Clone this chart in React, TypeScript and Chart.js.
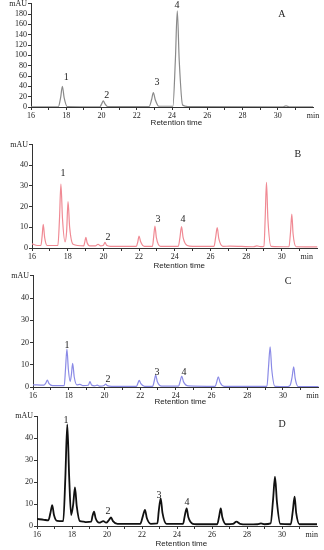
import React, { useEffect, useRef } from 'react';
import { Chart, registerables } from 'chart.js';

Chart.register(...registerables);

// ---------- data (retention time in min, signal in mAU) ----------
const traceA: number[][] = [
  [16, 0.5], [17.55, 0.5], [17.68, 18], [17.78, 40], [17.88, 18], [18.05, 1],
  [19.9, 0.5], [20.01, 6], [20.1, 12], [20.2, 6], [20.35, 0.8],
  [22.7, 0.8], [22.84, 14], [22.94, 28], [23.05, 14], [23.25, 1.5],
  [24.05, 1.5], [24.19, 90], [24.3, 186], [24.41, 90], [24.6, 4], [24.9, 1],
  [30.3, 0.5], [30.47, 2], [30.65, 0.5], [32, 0.5],
];

const traceB: number[][] = [
  [16, 2], [16.3, 1.2], [16.5, 1.2], [16.57, 6], [16.63, 11.4], [16.71, 5], [16.85, 1.2],
  [17.45, 1.2], [17.54, 14], [17.62, 30.9], [17.71, 14], [17.85, 3], [17.94, 8], [18.02, 22.4],
  [18.11, 10], [18.3, 1.8], [18.9, 1], [18.96, 3], [19.02, 5.2], [19.09, 2.5], [19.25, 1],
  [19.55, 1], [19.7, 1.8], [19.85, 1], [20.0, 1.3], [20.09, 2.7], [20.18, 1.3], [20.4, 0.8],
  [21.85, 0.8], [21.93, 3], [22.0, 5.8], [22.09, 3], [22.3, 0.8],
  [22.75, 0.8], [22.82, 5.5], [22.89, 10.6], [22.97, 5], [23.2, 0.8],
  [24.2, 0.8], [24.29, 5], [24.38, 10.3], [24.47, 5], [24.7, 1.2], [25.0, 0.8],
  [26.2, 0.8], [26.29, 5], [26.38, 9.8], [26.47, 4.5], [26.7, 0.8], [27.1, 0.9],
  [28.4, 0.6], [28.6, 1], [28.8, 0.7], [29.0, 0.8], [29.07, 15], [29.14, 31.7], [29.22, 14], [29.4, 0.8],
  [30.4, 0.6], [30.49, 8], [30.56, 16.4], [30.63, 7], [30.8, 0.6], [32, 0.5],
];

const traceC: number[][] = [
  [16, 1], [16.6, 0.8], [16.72, 1.8], [16.8, 3.1], [16.9, 1.5], [17.1, 0.6],
  [17.75, 0.6], [17.82, 8], [17.9, 17], [17.98, 8], [18.08, 2.5], [18.15, 5.5], [18.22, 10.6],
  [18.31, 4.5], [18.45, 1], [18.63, 1.2], [18.8, 0.6], [19.1, 0.8], [19.19, 2.4], [19.28, 0.9],
  [19.45, 0.5], [19.6, 0.8], [19.75, 0.4], [19.98, 0.7], [20.07, 1.3], [20.16, 0.6], [20.4, 0.3],
  [21.8, 0.3], [21.87, 1.6], [21.95, 3], [22.04, 1.5], [22.25, 0.3],
  [22.7, 0.3], [22.79, 2.7], [22.87, 5.4], [22.96, 2.5], [23.2, 0.4],
  [24.15, 0.4], [24.24, 2.5], [24.33, 4.9], [24.43, 2.3], [24.7, 0.5],
  [26.2, 0.3], [26.29, 2.3], [26.38, 4.6], [26.48, 2], [26.7, 0.3],
  [29.1, 0.3], [29.19, 9], [29.28, 18.1], [29.37, 8], [29.55, 0.3],
  [30.25, 0.2], [30.4, 0.8], [30.51, 4.5], [30.6, 9.1], [30.68, 4], [30.85, 0.2], [32, 0.2],
];

const traceD: number[][] = [
  [16, 3.2], [16.4, 2.8], [16.65, 2.6], [16.77, 6], [16.87, 9.5], [16.97, 5], [17.15, 2.3],
  [17.5, 2.2], [17.62, 22], [17.73, 46.2], [17.84, 22], [17.95, 5], [18.07, 10], [18.17, 17.6],
  [18.27, 9], [18.45, 2.2], [18.65, 2], [18.8, 1.8], [19.1, 2], [19.17, 4.5], [19.26, 6.5],
  [19.35, 3.5], [19.55, 1.5], [19.79, 2.2], [19.95, 1.5], [20.12, 2.8], [20.23, 3.9], [20.34, 2.2],
  [20.6, 1], [21.9, 1], [22.05, 4.5], [22.17, 7.3], [22.28, 3.5], [22.5, 1],
  [22.88, 1.2], [22.96, 7], [23.07, 12.6], [23.17, 6], [23.4, 1],
  [24.35, 1], [24.44, 4.5], [24.55, 8], [24.65, 4], [24.9, 1], [25.1, 0.8],
  [26.3, 0.8], [26.41, 4.5], [26.5, 8], [26.59, 4], [26.8, 0.8], [27.2, 1], [27.4, 2], [27.6, 1],
  [28.0, 0.7], [28.6, 0.8], [28.8, 1.2], [29.0, 0.8], [29.35, 1.2], [29.49, 12], [29.6, 22.4],
  [29.71, 11], [29.9, 1], [30.5, 0.8], [30.62, 7], [30.72, 13.3], [30.81, 6], [31.0, 0.8], [32, 0.8],
];

// tick values
const xTickValues = [16, 17, 18, 19, 20, 21, 22, 23, 24, 25, 26, 27, 28, 29, 30, 31];
const yTicksA = [0, 20, 40, 60, 80, 100, 120, 140, 160, 180, 200];
const yTicksBCD = [0, 10, 20, 30, 40, 50];

// annotations: [text, time, mAU]
const marksA: [string, number, number][] = [['1', 18.0, 58], ['2', 20.3, 23], ['3', 23.15, 48], ['4', 24.28, 197], ['A', 30.24, 180]];
const marksB: [string, number, number][] = [['1', 17.74, 36.2], ['2', 20.26, 5.3], ['3', 23.06, 14], ['4', 24.46, 14], ['B', 30.9, 45]];
const marksC: [string, number, number][] = [['1', 17.9, 18.9], ['2', 20.2, 3.6], ['3', 22.94, 6.7], ['4', 24.45, 6.7], ['C', 30.28, 47.6]];
const marksD: [string, number, number][] = [['1', 17.66, 48.2], ['2', 20.06, 6.8], ['3', 22.97, 14.1], ['4', 24.57, 10.9], ['D', 30.0, 46.4]];

const titleT = 24.25;
const W = 324;

type PanelCfg = {
  trace: number[][];
  marks: [string, number, number][];
  yTicks: number[];
  yMax: number;
  minPos: number;
  color: string;
  lw: number;
  pos: number;
  h: number;
  top: number;
  bottom: number;
  left: number;
  right: number;
  titleDy: number;
};

const panels: PanelCfg[] = [
  { trace: traceA, marks: marksA, yTicks: yTicksA, yMax: 200, minPos: 32, color: '#8a8a8a', lw: 1.2, pos: 0, h: 130, top: 3.7, bottom: 107, left: 31, right: 313, titleDy: 16 },
  { trace: traceB, marks: marksB, yTicks: yTicksBCD, yMax: 50, minPos: 31.4, color: '#f08a94', lw: 1.2, pos: 130, h: 140, top: 14.5, bottom: 118, left: 32, right: 317.5, titleDy: 18 },
  { trace: traceC, marks: marksC, yTicks: yTicksBCD, yMax: 50, minPos: 31.65, color: '#8a8ae6', lw: 1.2, pos: 265, h: 140, top: 10.75, bottom: 122, left: 33, right: 318.7, titleDy: 15 },
  { trace: traceD, marks: marksD, yTicks: yTicksBCD, yMax: 50, minPos: 31.7, color: '#111111', lw: 1.8, pos: 400, h: 150, top: 16, bottom: 126, left: 37, right: 317, titleDy: 18 },
];

function Panel({ cfg }: { cfg: PanelCfg }) {
  const ref = useRef<HTMLCanvasElement>(null);
  useEffect(() => {
    const c = cfg;
    const textPlugin = {
      id: 'panelTexts',
      afterDraw(chart: any) {
        const ctx = chart.ctx;
        const xs = chart.scales.x;
        const ys = chart.scales.y;
        ctx.save();
        ctx.fillStyle = '#222';
        ctx.textAlign = 'center';
        ctx.textBaseline = 'middle';
        ctx.font = '10px "Liberation Serif"';
        for (const [txt, t, v] of c.marks) {
          ctx.fillText(txt, xs.getPixelForValue(t), ys.getPixelForValue(v));
        }
        ctx.font = '8px "Liberation Sans"';
        ctx.fillText('Retention time', xs.getPixelForValue(titleT), chart.chartArea.bottom + c.titleDy);
        ctx.restore();
      },
    };
    const tickFont = { family: '"Liberation Serif"', size: 8 };
    const chart = new Chart(ref.current as HTMLCanvasElement, {
      type: 'line',
      data: {
        datasets: [
          {
            data: c.trace.map(([x, y]) => ({ x, y })),
            borderColor: c.color,
            borderWidth: c.lw,
            pointRadius: 0,
            cubicInterpolationMode: 'monotone',
            fill: false,
          } as any,
        ],
      },
      options: {
        responsive: false,
        animation: false,
        layout: { padding: { top: c.top, right: W - c.right, left: 0, bottom: 0 } },
        plugins: { legend: { display: false }, tooltip: { enabled: false } },
        scales: {
          x: {
            type: 'linear',
            min: 16,
            max: 32,
            afterBuildTicks: (s: any) => {
              s.ticks = [...xTickValues, c.minPos].map((v) => ({ value: v }));
            },
            afterFit: (s: any) => {
              s.height = c.h - c.bottom;
              s.paddingLeft = 0;
              s.paddingRight = 0;
            },
            ticks: {
              autoSkip: false,
              maxRotation: 0,
              minRotation: 0,
              padding: 1,
              color: '#222',
              font: tickFont,
              callback: (v: any) => (v === c.minPos ? 'min' : v % 2 === 0 ? String(v) : ''),
            },
            grid: {
              drawOnChartArea: false,
              tickLength: 3,
              tickColor: (ctx: any) => (ctx.tick && ctx.tick.value === c.minPos ? 'rgba(0,0,0,0)' : '#333'),
            },
            border: { color: '#333', width: 1 },
          },
          y: {
            type: 'linear',
            min: 0,
            max: c.yMax,
            afterBuildTicks: (s: any) => {
              s.ticks = c.yTicks.map((v) => ({ value: v }));
            },
            afterFit: (s: any) => {
              s.width = c.left;
              s.paddingTop = 0;
              s.paddingBottom = 0;
            },
            ticks: {
              autoSkip: false,
              padding: 1,
              color: '#222',
              font: tickFont,
              callback: (v: any) => (v === c.yMax ? 'mAU' : String(v)),
            },
            grid: { drawOnChartArea: false, tickLength: 3, tickColor: '#333' },
            border: { color: '#333', width: 1 },
          },
        },
      } as any,
      plugins: [textPlugin],
    });
    return () => chart.destroy();
  }, [cfg]);
  return (
    <div style={{ position: 'absolute', left: 0, top: cfg.pos, width: W, height: cfg.h }}>
      <canvas ref={ref} width={W} height={cfg.h} style={{ display: 'block' }} />
    </div>
  );
}

export default function App() {
  return (
    <div style={{ position: 'absolute', left: 0, top: 0, width: W, height: 550, background: '#fff', overflow: 'hidden' }}>
      {panels.map((p, i) => (
        <Panel key={i} cfg={p} />
      ))}
    </div>
  );
}
